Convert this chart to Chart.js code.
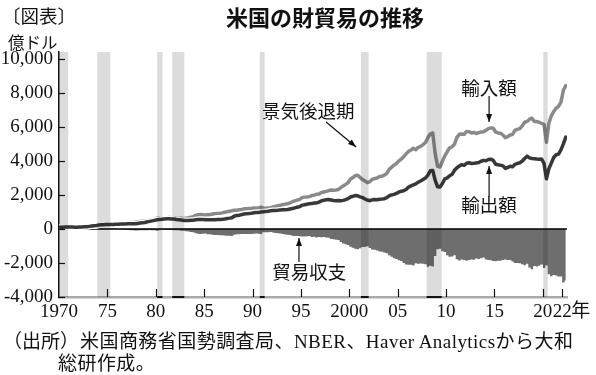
<!DOCTYPE html>
<html>
<head>
<meta charset="utf-8">
<script src="https://cdn.jsdelivr.net/npm/chart.js@4.4.0/dist/chart.umd.min.js"></script>
<style>
    body { margin: 0; background: #fff; }
    #wrap { position: relative; width: 596px; height: 375px; }
    #tradeGraph { position: absolute; left: 0; top: 0; }
    #wrap div { position: absolute; white-space: nowrap; line-height: 1; color: #111; }
    .jp { font-family: "Noto Sans CJK JP", sans-serif; }
    .src { font-family: "Liberation Serif", "Noto Sans CJK JP", serif; font-size: 19px; }
</style>
</head>
<body>
<div id="wrap">
    <canvas id="tradeGraph" width="596" height="375"></canvas>
    <div class="jp" style="left:2px; top:6px; font-size:18.5px;">〔図表〕</div>
    <div class="jp" style="left:200px; width:250px; text-align:center; top:5px; font-size:22px; font-weight:bold;">米国の財貿易の推移</div>
    <div class="jp" style="left:8px; top:34px; font-size:16.5px;">億ドル</div>
    <div class="src" style="left:3px; top:332px;">（出所）</div>
    <div class="src" style="left:80px; top:332px; letter-spacing:0.45px;">米国商務省国勢調査局、NBER、Haver Analyticsから大和</div>
    <div class="src" style="left:58px; top:354px; letter-spacing:0.45px;">総研作成。</div>
</div>
<script>
// quarterly values, 億ドル, 1970Q1 - 2022Q2
var startYear = 1970;
var exportsData = [
    103, 106, 107, 108, 110, 112, 106, 105, 117, 120, 126, 131, 152, 170, 186, 205,
    228, 243, 250, 262, 268, 262, 268, 273, 278, 284, 290, 295, 300, 305, 302, 300,
    325, 350, 365, 380, 420, 445, 475, 505,
    540, 555, 565, 585, 600, 600, 590, 580, 550, 540, 520, 500, 500, 498, 505, 515,
    540, 550, 553, 555, 545, 540, 535, 540, 545, 555, 560, 573, 590, 615, 635, 660,
    760, 790, 810, 840, 880, 900, 905, 915,
    950, 960, 970, 990, 1010, 1025, 1040, 1065, 1085, 1090, 1100, 1120, 1130, 1130, 1140, 1170,
    1200, 1240, 1280, 1310, 1400, 1420, 1450, 1480, 1490, 1520, 1530, 1580, 1650, 1690, 1710, 1730,
    1700, 1670, 1660, 1670, 1660, 1680, 1720, 1780,
    1880, 1920, 1970, 1950, 1890, 1840, 1760, 1700, 1660, 1710, 1730, 1720, 1750, 1760, 1780, 1840,
    1950, 2000, 2030, 2090, 2160, 2220, 2250, 2320, 2460, 2530, 2590, 2650, 2750, 2820, 2910, 3000,
    3160, 3420, 3440, 2850, 2480, 2470, 2670, 2940,
    3000, 3130, 3210, 3450, 3600, 3700, 3780, 3740, 3860, 3890, 3850, 3860, 3880, 3900, 3980, 4030,
    4010, 4080, 4100, 4030, 3800, 3770, 3750, 3710, 3560, 3610, 3690, 3650, 3800, 3850, 3890, 3990,
    4140, 4280, 4180, 4140, 4130, 4110, 4100, 4110,
    3850, 2950, 3530, 3870, 4200, 4360, 4400, 4650, 5000, 5400
];
var importsData = [
    96, 99, 101, 103, 108, 114, 117, 117, 133, 136, 141, 148, 162, 171, 178, 193,
    228, 258, 272, 280, 250, 236, 246, 250, 285, 303, 320, 334, 365, 378, 383, 393,
    420, 433, 447, 460, 490, 510, 545, 575,
    640, 630, 600, 628, 665, 668, 657, 662, 625, 620, 625, 606, 630, 655, 690, 713,
    800, 835, 850, 840, 820, 845, 840, 875, 900, 915, 925, 945, 980, 1010, 1040, 1068,
    1100, 1105, 1125, 1142, 1180, 1190, 1200, 1205,
    1230, 1225, 1250, 1280, 1210, 1215, 1235, 1250, 1290, 1325, 1360, 1390, 1425, 1460, 1480, 1530,
    1600, 1650, 1695, 1740, 1840, 1870, 1880, 1900, 1960, 1980, 2040, 2050, 2140, 2170, 2210, 2250,
    2290, 2270, 2290, 2320, 2430, 2530, 2620, 2720,
    2930, 3020, 3140, 3150, 3020, 2900, 2820, 2720, 2780, 2920, 2960, 2990, 3080, 3100, 3160, 3270,
    3500, 3630, 3750, 3850, 4000, 4110, 4250, 4410, 4560, 4640, 4740, 4660, 4800, 4850, 4960, 5080,
    5380, 5580, 5640, 4440, 3680, 3640, 3980, 4300,
    4550, 4770, 4830, 4990, 5380, 5560, 5580, 5560, 5730, 5720, 5640, 5670, 5610, 5660, 5700, 5710,
    5800, 5900, 5940, 5920, 5700, 5640, 5620, 5530, 5360, 5430, 5520, 5560, 5800, 5850, 5900, 6060,
    6270, 6320, 6450, 6510, 6310, 6310, 6270, 6200,
    6150, 5100, 6200, 6650, 6900, 7100, 7200, 7450, 8150, 8430
];
var balanceData = [
    7, 7, 6, 5, 2, -2, -11, -12, -16, -16, -15, -17, -10, -1, 8, 12,
    0, -15, -22, -18, 18, 26, 22, 23, -7, -19, -30, -39, -65, -73, -81, -93,
    -95, -83, -82, -80, -70, -65, -70, -70,
    -100, -75, -35, -43, -65, -68, -67, -82, -75, -80, -105, -106, -130, -157, -185, -198,
    -260, -285, -297, -285, -275, -305, -305, -335, -355, -360, -365, -372, -390, -395, -405, -408,
    -340, -315, -315, -302, -300, -290, -295, -290,
    -280, -265, -280, -290, -200, -190, -195, -185, -205, -235, -260, -270, -295, -330, -340, -360,
    -400, -410, -415, -430, -440, -450, -430, -420, -470, -460, -510, -470, -490, -480, -500, -520,
    -590, -600, -630, -650, -770, -850, -900, -940,
    -1050, -1100, -1170, -1200, -1130, -1060, -1060, -1020, -1120, -1210, -1230, -1270, -1330, -1340, -1380, -1430,
    -1550, -1630, -1720, -1760, -1840, -1890, -2000, -2090, -2100, -2110, -2150, -2010, -2050, -2030, -2050, -2080,
    -2220, -2160, -2200, -1590, -1200, -1170, -1310, -1360,
    -1550, -1640, -1620, -1540, -1780, -1860, -1800, -1820, -1870, -1830, -1790, -1810, -1730, -1760, -1720, -1680,
    -1790, -1820, -1840, -1890, -1900, -1870, -1870, -1820, -1800, -1820, -1830, -1910, -2000, -2000, -2010, -2070,
    -2130, -2040, -2270, -2370, -2180, -2200, -2170, -2090,
    -2300, -2150, -2670, -2780, -2700, -2740, -2800, -2800, -3150, -3030
];

// NBER recessions (years, as drawn)
var recessionStart = [1970.0, 1973.95, 1980.15, 1981.7, 1990.75, 2001.2, 2008.0, 2020.05];
var recessionEnd = [1970.95, 1975.3, 1980.7, 1982.95, 1991.25, 2002.0, 2009.55, 2020.5];
var recessionUnderline = [false, false, true, true, true, true, true, false];

var xTickValues = [1970, 1975, 1980, 1985, 1990, 1995, 2000, 2005, 2010, 2015, 2020, 2022];
var xTickLabels = ["1970", "75", "80", "85", "90", "95", "2000", "05", "10", "15", "20", "22"];
var yTickValues = [-4000, -2000, 0, 2000, 4000, 6000, 8000, 10000];

// annotation positions in data units
var annotations = [
    { text: "景気後退期", x: 1995.75, y: 6940, arrow: [1997.6, 6290, 2000.7, 4820] },
    { text: "輸入額", x: 2014.45, y: 8290, arrow: [2014.45, 7820, 2014.45, 6290] },
    { text: "輸出額", x: 2014.45, y: 1410, arrow: [2014.45, 1880, 2014.45, 3700] },
    { text: "貿易収支", x: 1995.85, y: -2530, arrow: [1994.8, -1940, 1994.8, -530] },
];

var importsColor = "#8a8a8a";
var exportsColor = "#383838";
var balanceColor = "#6e6e6e";
var bandColor = "#dcdcdc";

var quarters = [];
for (var i = 0; i < exportsData.length; i++) {
    quarters.push(startYear + i / 4 + 0.125);
}

function to_points(values) {
    return values.map(function (v, i) {
        return { x: quarters[i], y: v };
    });
}

function draw_arrow(ctx, x1, y1, x2, y2) {
    ctx.beginPath();
    ctx.moveTo(x1, y1);
    ctx.lineTo(x2, y2);
    ctx.stroke();
    var a = Math.atan2(y2 - y1, x2 - x1);
    ctx.beginPath();
    ctx.moveTo(x2, y2);
    ctx.lineTo(x2 - 8 * Math.cos(a) + 3 * Math.sin(a), y2 - 8 * Math.sin(a) - 3 * Math.cos(a));
    ctx.lineTo(x2 - 8 * Math.cos(a) - 3 * Math.sin(a), y2 - 8 * Math.sin(a) + 3 * Math.cos(a));
    ctx.closePath();
    ctx.fill();
}

var recessionPlugin = {
    id: "recessions",
    afterDatasetsDraw: function (chart) {
        var ctx = chart.ctx;
        var area = chart.chartArea;
        var x = chart.scales.x;
        ctx.save();
        ctx.globalCompositeOperation = "multiply";
        ctx.fillStyle = bandColor;
        for (var i = 0; i < recessionStart.length; i++) {
            var x1 = x.getPixelForValue(recessionStart[i]);
            var x2 = x.getPixelForValue(recessionEnd[i]);
            ctx.fillRect(x1, area.top, x2 - x1, area.bottom - area.top);
        }
        ctx.restore();
    },
    afterDraw: function (chart) {
        var ctx = chart.ctx;
        var area = chart.chartArea;
        var x = chart.scales.x;
        var y = chart.scales.y;
        ctx.save();
        ctx.strokeStyle = "#111";
        ctx.fillStyle = "#111";
        ctx.lineWidth = 1.2;
        // inner tick marks
        for (var v of yTickValues) {
            var py = Math.round(y.getPixelForValue(v)) + 0.5;
            ctx.beginPath();
            ctx.moveTo(area.left, py);
            ctx.lineTo(area.left + 6, py);
            ctx.stroke();
        }
        for (var v of xTickValues) {
            if (v == startYear) {
                continue;
            }
            var px = Math.round(x.getPixelForValue(v)) + 0.5;
            ctx.beginPath();
            ctx.moveTo(px, area.bottom);
            ctx.lineTo(px, area.bottom - 8);
            ctx.stroke();
        }
        // dark marks on the base line under recessions
        ctx.lineWidth = 2;
        for (var i = 0; i < recessionStart.length; i++) {
            if (!recessionUnderline[i]) {
                continue;
            }
            ctx.beginPath();
            ctx.moveTo(x.getPixelForValue(recessionStart[i]), area.bottom);
            ctx.lineTo(x.getPixelForValue(recessionEnd[i]), area.bottom);
            ctx.stroke();
        }
        // 年 after the last tick label
        ctx.font = "19px 'Noto Sans CJK JP', sans-serif";
        ctx.textAlign = "left";
        ctx.textBaseline = "middle";
        ctx.fillText("年", x.getPixelForValue(2022) + 9, area.bottom + 13);
        // annotations
        ctx.font = "18.5px 'Noto Sans CJK JP', sans-serif";
        ctx.textAlign = "center";
        ctx.lineWidth = 1.2;
        for (var a of annotations) {
            ctx.fillText(a.text, x.getPixelForValue(a.x), y.getPixelForValue(a.y));
            draw_arrow(ctx,
                x.getPixelForValue(a.arrow[0]), y.getPixelForValue(a.arrow[1]),
                x.getPixelForValue(a.arrow[2]), y.getPixelForValue(a.arrow[3]));
        }
        ctx.restore();
    },
};

var config = {
    type: "line",
    data: {
        datasets: [
            {
                label: "貿易収支",
                data: to_points(balanceData),
                borderWidth: 0,
                borderColor: "rgba(0,0,0,0)",
                backgroundColor: balanceColor,
                fill: "origin",
                stepped: "middle",
                order: 6,
            },
            {
                label: "zero",
                data: [{ x: 1970, y: 0 }, { x: 2022.5, y: 0 }],
                borderColor: "#000",
                borderWidth: 1.5,
                order: 5,
            },
            {
                label: "輸入額 outline",
                data: to_points(importsData),
                borderColor: "#fff",
                borderWidth: 6,
                order: 4,
            },
            {
                label: "輸入額",
                data: to_points(importsData),
                borderColor: importsColor,
                borderWidth: 3.5,
                order: 3,
            },
            {
                label: "輸出額 outline",
                data: to_points(exportsData),
                borderColor: "#fff",
                borderWidth: 6,
                order: 2,
            },
            {
                label: "輸出額",
                data: to_points(exportsData),
                borderColor: exportsColor,
                borderWidth: 3.5,
                order: 1,
            },
        ],
    },
    options: {
        responsive: false,
        animation: false,
        devicePixelRatio: 1,
        layout: { padding: { top: 52, right: 29, left: 0, bottom: 0 } },
        elements: {
            point: { radius: 0 },
            line: { tension: 0, borderJoinStyle: "round", borderCapStyle: "round" },
        },
        plugins: {
            legend: { display: false },
            tooltip: { enabled: false },
        },
        scales: {
            x: {
                type: "linear",
                min: 1970,
                max: 2022.5,
                afterFit: function (scale) {
                    scale.height = 78;
                },
                afterBuildTicks: function (scale) {
                    scale.ticks = xTickValues.map(function (v) {
                        return { value: v };
                    });
                },
                grid: { display: false, drawTicks: false },
                border: { display: true, color: "#aaaaaa", width: 2.5 },
                ticks: {
                    autoSkip: false,
                    maxRotation: 0,
                    minRotation: 0,
                    padding: 4,
                    color: "#111",
                    font: { family: "'Liberation Serif', serif", size: 19 },
                    callback: function (value) {
                        return xTickLabels[xTickValues.indexOf(value)];
                    },
                },
            },
            y: {
                min: -4000,
                max: 10400,
                afterFit: function (scale) {
                    scale.width = 59;
                },
                afterBuildTicks: function (scale) {
                    scale.ticks = yTickValues.map(function (v) {
                        return { value: v };
                    });
                },
                grid: { display: false, drawTicks: false },
                border: { display: true, color: "#111", width: 1.5 },
                ticks: {
                    padding: 6,
                    color: "#111",
                    font: { family: "'Liberation Serif', serif", size: 19 },
                    callback: function (value) {
                        return value.toLocaleString("en-US");
                    },
                },
            },
        },
    },
    plugins: [recessionPlugin],
};

var tradeGraph = new Chart("tradeGraph", config);
</script>
</body>
</html>
